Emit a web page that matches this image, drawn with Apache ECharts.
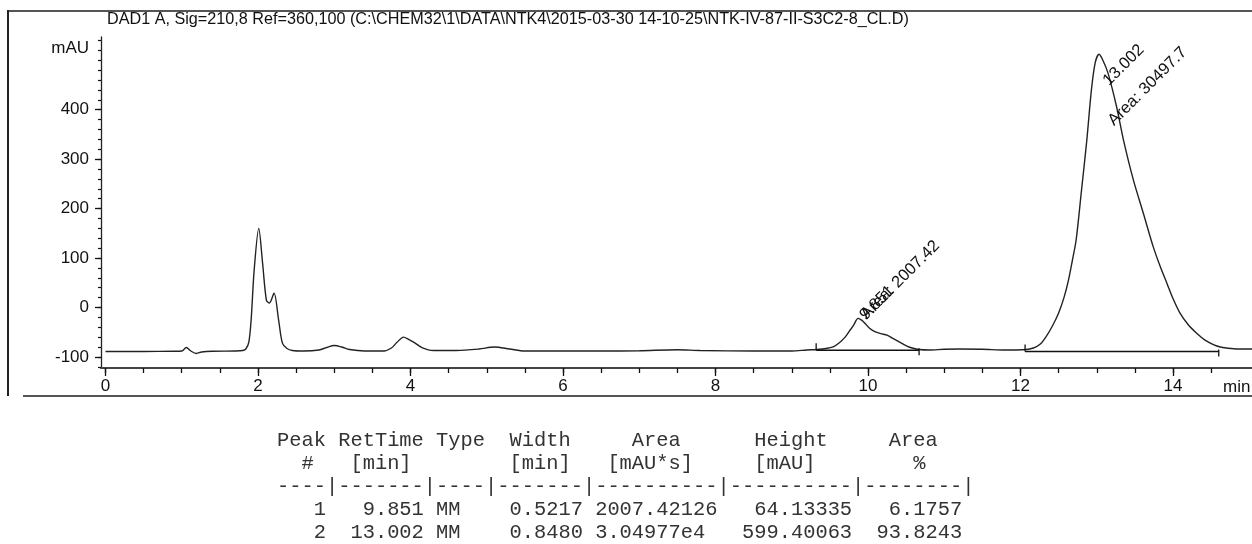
<!DOCTYPE html>
<html>
<head>
<meta charset="utf-8">
<script src="https://cdn.jsdelivr.net/npm/echarts@6/dist/echarts.min.js"></script>
<style>
html, body { margin: 0; padding: 0; background: #fff; }
#main { width: 1252px; height: 544px; }
</style>
</head>
<body>
<div id="main"></div>
<script>
// chromatogram trace (time in min, signal in mAU)
var traceTime = [0.00, 0.50, 0.90, 1.00, 1.06, 1.12, 1.19, 1.26, 1.40, 1.70, 1.80, 1.84, 1.88, 1.91, 1.95, 2.01, 2.06, 2.11, 2.15, 2.21,
	2.27, 2.32, 2.38, 2.45, 2.60, 2.80, 2.90, 3.00, 3.10, 3.20, 3.40, 3.65, 3.75, 3.82, 3.91, 3.97, 4.04, 4.15, 4.30, 4.60,
	4.90, 5.10, 5.30, 5.50, 6.00, 6.50, 7.00, 7.50, 7.80, 8.50, 9.00, 9.20, 9.33, 9.45, 9.55, 9.62, 9.70, 9.76, 9.81, 9.87,
	9.92, 9.96, 10.02, 10.09, 10.17, 10.25, 10.32, 10.38, 10.45, 10.51, 10.58, 10.67, 10.80, 11.00, 11.20, 11.50, 11.80, 12.03, 12.17, 12.26,
	12.34, 12.42, 12.50, 12.57, 12.63, 12.68, 12.73, 12.80, 12.87, 12.93, 12.98, 13.03, 13.08, 13.15, 13.26, 13.35, 13.48, 13.61, 13.74, 13.83,
	13.92, 14.00, 14.09, 14.20, 14.31, 14.42, 14.53, 14.62, 14.70, 14.85, 15.04];
var traceMau = [-89, -89, -88.5, -88, -81, -88, -93, -90, -88.5, -88, -87, -84, -70, -25, 76, 160, 90, 15, 9, 29,
	-25, -72, -83, -87, -88, -86, -81, -77, -80, -85, -88, -88, -82, -71, -60, -64, -70, -81, -87, -87,
	-84, -80, -84, -88, -88, -88, -87.5, -85.5, -87, -88, -88, -86, -85, -83, -79, -72, -60, -47, -36, -22,
	-26, -32, -42, -49, -53, -56, -62, -67, -73, -78, -82, -85, -86, -84.5, -84, -84.5, -86, -85.5, -82, -74,
	-58, -37, -11, 20, 56, 95, 137, 237, 339, 440, 495, 512, 500, 473, 406, 339, 258, 191, 123, 84,
	49, 18, -11, -35, -52, -66, -75, -80, -82, -84, -84];

// integration events (baseline drawn under each peak)
var intStart = [9.32, 12.06];
var intEnd = [10.67, 14.60];
var intBase = [-86.5, -89];

// peak table
var peakNo = [1, 2];
var retTime = ['9.851', '13.002'];
var peakType = ['MM', 'MM'];
var peakWidth = ['0.5217', '0.8480'];
var peakArea = ['2007.42126', '3.04977e4'];
var peakHeight = ['64.13335', '599.40063'];
var areaPct = ['6.1757', '93.8243'];
var areaShort = ['2007.42', '30497.7'];

// axis ticks
var yMajor = [-100, 0, 100, 200, 300, 400];
var yMinor = [];
for (var v = -120; v <= 540; v += 20) yMinor.push(v);
var xMajor = [0, 2, 4, 6, 8, 10, 12, 14];
var xMinor = [];
for (var t = 0; t <= 14.5; t += 0.5) xMinor.push(t);

var titleText = 'DAD1 A, Sig=210,8 Ref=360,100 (C:\\CHEM32\\1\\DATA\\NTK4\\2015-03-30 14-10-25\\NTK-IV-87-II-S3C2-8_CL.D)';

var sansFont = '"Liberation Sans", Arial, sans-serif';
var monoFont = '"Liberation Mono", "Courier New", monospace';

function padL(s, n) { s = String(s); while (s.length < n) s = ' ' + s; return s; }
function padR(s, n) { s = String(s); while (s.length < n) s = s + ' '; return s; }

window.addEventListener('load', function () {
	var myChart = echarts.init(document.getElementById('main'));

	// table rows
	var tableLines = [
		'Peak RetTime Type  Width     Area      Height     Area  ',
		'  #   [min]        [min]   [mAU*s]     [mAU]        %   ',
		'----|-------|----|-------|----------|----------|--------|'
	];
	for (var i = 0; i < peakNo.length; i++) {
		tableLines.push(padL(peakNo[i], 4) + padL(retTime[i], 8) + ' ' + padR(peakType[i], 4) + ' '
			+ padL(peakWidth[i], 7) + ' ' + padR(peakArea[i], 10) + padL(peakHeight[i], 11) + padL(areaPct[i], 9));
	}

	// peak annotations: RT label and area label, anchored on the apex
	var labelTime = [], labelMau = [], labelText = [];
	for (var k = 0; k < retTime.length; k++) {
		var apex = intBase[k] + parseFloat(peakHeight[k]);
		labelTime.push(parseFloat(retTime[k]), parseFloat(retTime[k]));
		labelMau.push(apex, apex);
		labelText.push(retTime[k], 'Area: ' + areaShort[k]);
	}
	var labelNudge = [[12, 5], [13, 4], [15, 34], [20, 74]];

	var series = [{
		type: 'line',
		data: traceTime.map(function (t, i) { return [t, traceMau[i]]; }),
		showSymbol: false,
		smooth: 0.3,
		lineStyle: { color: '#222', width: 1.4 },
		z: 3
	}];

	// integration baselines with start / end ticks
	for (var j = 0; j < intStart.length; j++) {
		var b = intBase[j];
		var segs = [
			[[intStart[j], b], [intEnd[j], b]],
			[[intStart[j], b], [intStart[j], b + 14]],
			[[intEnd[j], b + 4], [intEnd[j], b - 10]]
		];
		segs.forEach(function (seg) {
			series.push({
				type: 'line',
				data: seg,
				showSymbol: false,
				lineStyle: { color: '#111', width: 1.3 },
				z: 4
			});
		});
	}

	series.push({
		type: 'custom',
		coordinateSystem: 'cartesian2d',
		data: labelTime.map(function (t, i) { return [t, labelMau[i]]; }),
		clip: false,
		z: 5,
		renderItem: function (params, api) {
			var p = api.coord([api.value(0), api.value(1)]);
			var n = labelNudge[params.dataIndex];
			return {
				type: 'text',
				x: p[0] + n[0],
				y: p[1] + n[1],
				rotation: Math.PI / 4,
				style: {
					text: labelText[params.dataIndex],
					fontSize: 16.5,
					fontFamily: sansFont,
					fill: '#111',
					align: 'left',
					verticalAlign: 'bottom'
				}
			};
		}
	});

	var option = {
		animation: false,
		backgroundColor: '#fff',
		grid: { left: 101, right: 0, top: 37, bottom: 176 },
		xAxis: [{
			type: 'value',
			min: -0.059,
			max: 15.036,
			axisLine: { onZero: false, lineStyle: { color: '#444', width: 2 } },
			axisTick: { customValues: xMajor, length: 8, lineStyle: { color: '#111', width: 1.3 } },
			axisLabel: { customValues: xMajor, margin: 10, fontSize: 17, fontFamily: sansFont, color: '#111' },
			splitLine: { show: false }
		}, {
			type: 'value',
			position: 'bottom',
			min: -0.059,
			max: 15.036,
			axisLine: { show: false, onZero: false },
			axisTick: { customValues: xMinor, length: 5, lineStyle: { color: '#111', width: 1.3 } },
			axisLabel: { show: false },
			splitLine: { show: false }
		}],
		yAxis: [{
			type: 'value',
			min: -122.4,
			max: 547,
			axisLine: { show: true, onZero: false, lineStyle: { color: '#222', width: 1.3 } },
			axisTick: { show: true, customValues: yMajor, length: 6, lineStyle: { color: '#111', width: 1.3 } },
			axisLabel: { customValues: yMajor, margin: 12, fontSize: 17, fontFamily: sansFont, color: '#111' },
			splitLine: { show: false }
		}, {
			type: 'value',
			position: 'left',
			min: -122.4,
			max: 547,
			axisLine: { show: false, onZero: false },
			axisTick: { show: true, customValues: yMinor, length: 3, lineStyle: { color: '#111', width: 1.2 } },
			axisLabel: { show: false },
			splitLine: { show: false }
		}],
		graphic: [
			{ type: 'line', shape: { x1: 8, y1: 11, x2: 1252, y2: 11 }, style: { stroke: '#555', lineWidth: 2 } },
			{ type: 'line', shape: { x1: 8, y1: 10, x2: 8, y2: 396 }, style: { stroke: '#222', lineWidth: 2 } },
			{ type: 'line', shape: { x1: 23, y1: 396, x2: 1252, y2: 396 }, style: { stroke: '#555', lineWidth: 2 } },
			{ type: 'text', x: 107, y: 20, style: { text: titleText, fontSize: 16.2, fontFamily: sansFont, fill: '#111', verticalAlign: 'middle' } },
			{ type: 'text', x: 89, y: 48, style: { text: 'mAU', fontSize: 17, fontFamily: sansFont, fill: '#111', align: 'right', verticalAlign: 'middle' } },
			{ type: 'text', x: 1223, y: 387, style: { text: 'min', fontSize: 17, fontFamily: sansFont, fill: '#111', verticalAlign: 'middle' } },
			{ type: 'text', x: 277, y: 429.5, style: { text: tableLines.join('\n'), fontSize: 20.4, lineHeight: 23, fontFamily: monoFont, fill: '#333' } }
		],
		series: series
	};

	myChart.setOption(option);
});
</script>
</body>
</html>
